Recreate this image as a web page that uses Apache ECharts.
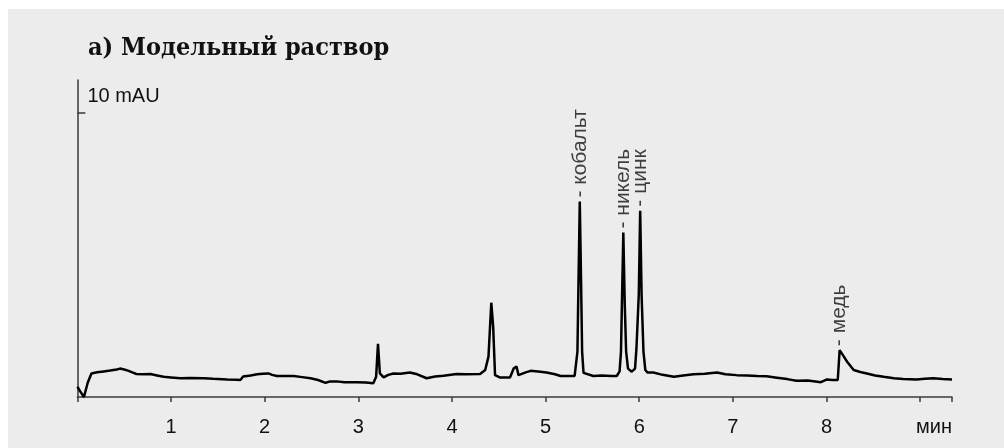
<!DOCTYPE html>
<html>
<head>
<meta charset="utf-8">
<script src="https://cdn.jsdelivr.net/npm/echarts@6/dist/echarts.min.js"></script>
<style>
  html, body { margin: 0; padding: 0; background: #ffffff; }
  #chart { position: absolute; left: 8px; top: 9px; width: 996px; height: 439px; background: #ececec; }
</style>
</head>
<body>
<div id="chart"></div>
<script>
// retention time, min
const times = [
  0, 0.03, 0.07, 0.11, 0.15, 0.21, 0.28, 0.35, 0.42, 0.455, 0.5, 0.54, 0.6, 0.63, 0.7, 0.78, 0.85, 0.92,
  1.0, 1.1, 1.2, 1.35, 1.45, 1.6, 1.7, 1.74, 1.77, 1.85, 1.92, 1.98, 2.04, 2.08, 2.13, 2.2, 2.31, 2.4,
  2.49, 2.57, 2.65, 2.7, 2.77, 2.85, 2.98, 3.08, 3.16, 3.19, 3.21, 3.23, 3.27, 3.32, 3.375, 3.45, 3.55,
  3.63, 3.73, 3.82, 3.91, 4.05, 4.15, 4.3, 4.355, 4.39, 4.42, 4.44, 4.46, 4.51, 4.62, 4.66, 4.69, 4.71,
  4.78, 4.84, 4.92, 5.01, 5.1, 5.16, 5.25, 5.31, 5.325, 5.34, 5.35, 5.365, 5.38, 5.39, 5.405, 5.42,
  5.51, 5.6, 5.7, 5.76, 5.79, 5.805, 5.815, 5.83, 5.845, 5.86, 5.88, 5.92, 5.955, 5.97, 5.995, 6.01,
  6.025, 6.045, 6.065, 6.09, 6.15, 6.25, 6.37, 6.47, 6.58, 6.7, 6.83, 6.92, 7.04, 7.15, 7.26, 7.36,
  7.47, 7.58, 7.68, 7.8, 7.94, 8.005, 8.06, 8.12, 8.14, 8.17, 8.22, 8.29, 8.36, 8.43, 8.52, 8.61, 8.72,
  8.82, 8.96, 9.05, 9.14, 9.24, 9.34,
];
// absorbance, mAU
const signal = [
  0.36, 0.2, 0.0, 0.5, 0.83, 0.87, 0.9, 0.93, 0.97, 1.0, 0.97, 0.93, 0.85, 0.81, 0.8, 0.81, 0.76, 0.71,
  0.69, 0.66, 0.67, 0.66, 0.64, 0.62, 0.61, 0.6, 0.72, 0.76, 0.8, 0.82, 0.83, 0.78, 0.74, 0.74, 0.74, 0.7,
  0.66, 0.6, 0.5, 0.55, 0.55, 0.52, 0.52, 0.51, 0.48, 0.71, 1.87, 0.83, 0.69, 0.78, 0.83, 0.82, 0.86,
  0.8, 0.66, 0.72, 0.75, 0.81, 0.8, 0.81, 0.95, 1.42, 3.32, 2.48, 0.77, 0.69, 0.69, 1.01, 1.07, 0.77,
  0.86, 0.92, 0.9, 0.86, 0.8, 0.74, 0.74, 0.74, 0.8, 1.6, 3.8, 6.88, 3.8, 1.6, 0.85, 0.8,
  0.74, 0.76, 0.74, 0.74, 0.9, 1.6, 3.3, 5.79, 3.3, 1.6, 1.0, 0.89, 1.0, 1.7, 3.6, 6.56,
  3.6, 1.6, 0.95, 0.86, 0.86, 0.78, 0.71, 0.76, 0.8, 0.82, 0.86, 0.8, 0.77, 0.76, 0.74, 0.73,
  0.68, 0.63, 0.57, 0.58, 0.52, 0.62, 0.6, 0.6, 1.65, 1.5, 1.24, 0.95, 0.88, 0.83, 0.76, 0.71, 0.66,
  0.63, 0.62, 0.64, 0.66, 0.63, 0.62,
];

const peakNames = ["кобальт", "никель", "цинк", "медь"];
const peakTimes = [5.365, 5.83, 6.01, 8.14];
const peakHeights = [6.88, 5.79, 6.56, 1.65];

const xTickLabels = ["", "1", "2", "3", "4", "5", "6", "7", "8", ""];
const yTickValues = [10];

const axisColor = "#3a3a3a";
const textColor = "#111";
const labelFont = "'Liberation Sans', Arial, sans-serif";

const chart = echarts.init(document.getElementById("chart"), null, { renderer: "canvas" });

chart.setOption({
  animation: false,
  backgroundColor: "#ececec",
  title: {
    text: "а) Модельный раствор",
    left: 75,
    top: 22,
    textStyle: {
      fontFamily: "'DejaVu Serif Condensed', 'DejaVu Serif', serif",
      fontWeight: "bold",
      fontSize: 25,
      color: "#111",
    },
  },
  grid: { left: 69.4, right: 52, top: 71, bottom: 51, containLabel: false },
  xAxis: {
    type: "value",
    min: 0,
    max: 9.34,
    interval: 1,
    name: "мин",
    nameLocation: "end",
    nameGap: 0,
    nameTextStyle: {
      color: textColor,
      fontFamily: labelFont,
      fontSize: 20,
      align: "right",
      verticalAlign: "top",
      padding: [20, 0, 0, 0],
    },
    axisLine: { show: true, onZero: false, lineStyle: { color: axisColor, width: 1.5 } },
    axisTick: { show: true, length: 5, lineStyle: { color: axisColor, width: 1.5 } },
    axisLabel: {
      color: textColor,
      fontFamily: labelFont,
      fontSize: 20,
      margin: 20,
      formatter: (v) => xTickLabels[Math.round(v)] ?? "",
    },
    splitLine: { show: false },
  },
  yAxis: {
    type: "value",
    min: 0,
    max: 11.16,
    axisLine: { show: true, lineStyle: { color: axisColor, width: 1.5 } },
    axisTick: {
      show: true,
      inside: true,
      length: 8,
      customValues: yTickValues,
      lineStyle: { color: axisColor, width: 1.5 },
    },
    axisLabel: {
      show: true,
      inside: true,
      customValues: yTickValues,
      margin: 10,
      color: textColor,
      fontFamily: labelFont,
      fontSize: 20,
      verticalAlign: "bottom",
      padding: [0, 0, 6, 0],
      formatter: (v) => v + " mAU",
    },
    splitLine: { show: false },
  },
  series: [
    {
      type: "line",
      data: times.map((t, i) => [t, signal[i]]),
      showSymbol: false,
      smooth: false,
      lineStyle: { color: "#000", width: 2.5 },
      z: 3,
    },
    {
      type: "scatter",
      data: peakNames.map((name, i) => ({ name, value: [peakTimes[i], peakHeights[i]] })),
      symbolSize: 0,
      silent: true,
      label: {
        show: true,
        formatter: (p) => "- " + p.name,
        position: "top",
        distance: 4,
        rotate: 90,
        align: "left",
        verticalAlign: "middle",
        color: textColor,
        fontFamily: labelFont,
        fontSize: 21,
      },
      z: 4,
    },
  ],
});
</script>
</body>
</html>
